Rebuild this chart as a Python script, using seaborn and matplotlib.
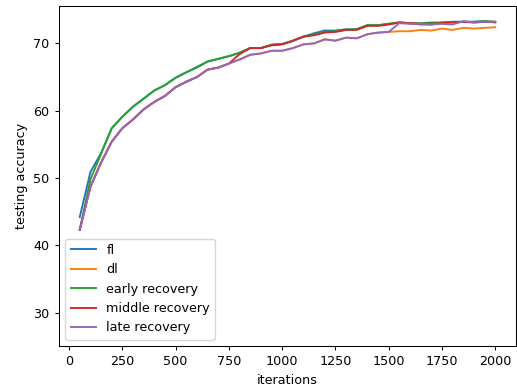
import matplotlib
matplotlib.use("Agg")
import matplotlib.pyplot as plt
import seaborn as sns
import pandas as pd

iterations = list(range(50, 2001, 50))

fl = [44.2, 50.9, 53.7, 57.4, 59.1, 60.6, 61.8, 63.0, 63.8, 64.9,
      65.7, 66.5, 67.3, 67.7, 68.1, 68.6, 69.3, 69.3, 69.8, 69.9,
      70.4, 71.0, 71.5, 71.9, 71.9, 72.1, 72.1, 72.7, 72.7, 72.9,
      73.1, 73.0, 72.8, 72.8, 73.1, 73.2, 73.2, 73.2, 73.3, 73.1]

dl = [42.3, 48.7, 52.3, 55.4, 57.4, 58.7, 60.2, 61.3, 62.2, 63.5,
      64.3, 65.0, 66.1, 66.4, 67.0, 67.6, 68.3, 68.5, 68.9, 68.9,
      69.3, 69.85, 70.0, 70.6, 70.4, 70.85, 70.75, 71.35, 71.6, 71.7,
      71.8, 71.8, 72.0, 71.9, 72.2, 72.0, 72.3, 72.2, 72.3, 72.4]

early_recovery = [42.3, 49.8, 53.6, 57.4, 59.1, 60.6, 61.8, 63.0, 63.8, 64.9,
                  65.7, 66.4, 67.3, 67.7, 68.1, 68.6, 69.3, 69.3, 69.8, 69.9,
                  70.4, 71.0, 71.3, 71.7, 71.8, 72.0, 72.1, 72.7, 72.7, 72.9,
                  73.1, 73.0, 73.0, 73.1, 73.1, 73.2, 73.2, 73.2, 73.3, 73.2]

middle_recovery = [42.3, 48.7, 52.3, 55.4, 57.4, 58.7, 60.2, 61.3, 62.2, 63.5,
                   64.3, 65.0, 66.1, 66.4, 67.0, 68.4, 69.3, 69.3, 69.7, 69.85,
                   70.35, 71.0, 71.2, 71.6, 71.7, 72.0, 72.0, 72.6, 72.6, 72.8,
                   73.1, 73.0, 72.9, 72.9, 73.0, 73.1, 73.2, 73.1, 73.2, 73.2]

late_recovery = [42.3, 48.7, 52.3, 55.4, 57.4, 58.7, 60.2, 61.3, 62.2, 63.5,
                 64.3, 65.0, 66.1, 66.4, 67.0, 67.6, 68.3, 68.5, 68.9, 68.9,
                 69.3, 69.85, 70.0, 70.6, 70.4, 70.85, 70.75, 71.35, 71.6, 71.7,
                 73.0, 72.9, 72.9, 72.8, 72.9, 72.8, 73.3, 73.1, 73.2, 73.2]

series_names = ["fl", "dl", "early recovery", "middle recovery", "late recovery"]
series_values = [fl, dl, early_recovery, middle_recovery, late_recovery]

plt.rcParams["font.size"] = 9.2
fig = plt.figure(figsize=(5.17, 3.91), dpi=100)
ax = fig.add_axes([59 / 517, (391 - 346) / 391, 457 / 517, 340 / 391])

colors = ["#1f77b4", "#ff7f0e", "#2ca02c", "#d62728", "#9467bd"]
for name, vals, c in zip(series_names, series_values, colors):
    df = pd.DataFrame({"iterations": iterations, "acc": vals})
    sns.lineplot(data=df, x="iterations", y="acc", ax=ax, label=name,
                 color=c, linewidth=1.38)

ax.set_xlim(-47.5, 2097.5)
ax.set_ylim(25.05, 75.55)
ax.set_xlabel("iterations", fontsize=9.2)
ax.set_ylabel("testing accuracy", fontsize=9.2)
ax.tick_params(labelsize=9.2, length=3.2, width=0.74)
for s in ax.spines.values():
    s.set_linewidth(0.74)
ax.legend(loc="lower left", fontsize=9.2)

fig.savefig("out.png", dpi=100)
